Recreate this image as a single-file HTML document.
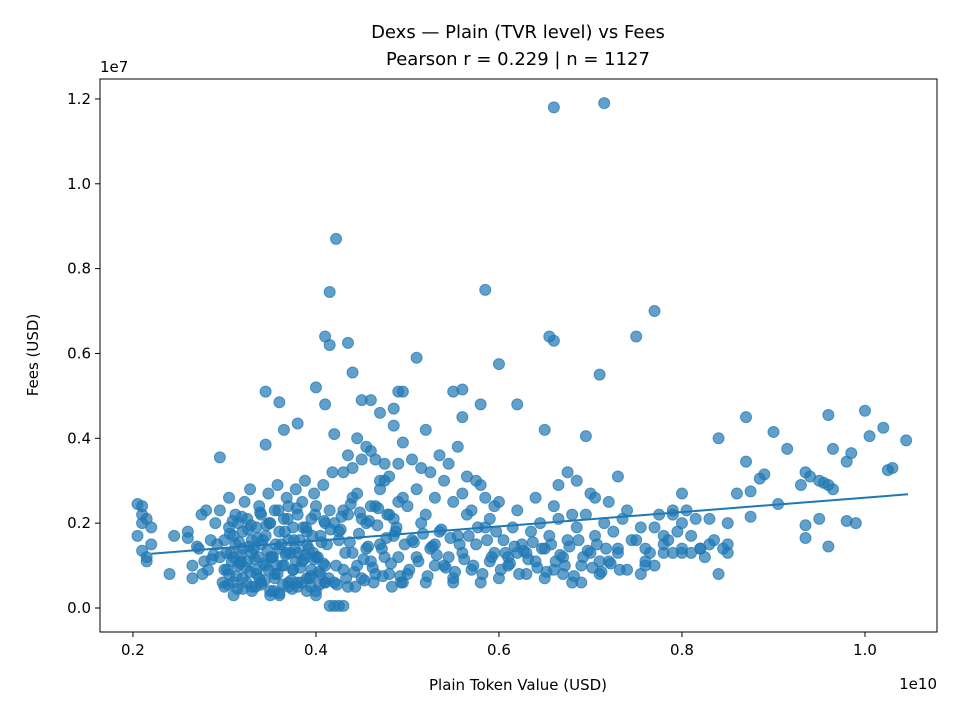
<!DOCTYPE html>
<html><head><meta charset="utf-8"><style>
html,body{margin:0;padding:0;background:#fff;}
svg text{font-family:"DejaVu Sans","Liberation Sans",sans-serif;fill:#000;}
</style></head><body>
<svg id="chart" width="960" height="720" viewBox="0 0 960 720" xmlns="http://www.w3.org/2000/svg">
<rect width="960" height="720" fill="#fff"/>
<text x="518" y="38" font-size="18" text-anchor="middle">Dexs — Plain (TVR level) vs Fees</text>
<text x="518" y="65" font-size="18" text-anchor="middle">Pearson r = 0.229 | n = 1127</text>
<g id="points"></g>
<g id="fit"></g>
<g id="axes"></g>
<text x="518" y="690" font-size="15" text-anchor="middle">Plain Token Value (USD)</text>
<text transform="translate(38,355) rotate(-90)" font-size="15" text-anchor="middle">Fees (USD)</text>
<text x="937" y="689" font-size="15" text-anchor="end">1e10</text>
<text x="100" y="72" font-size="15">1e7</text>
</svg>
<script>
// x in 1e9 USD, y in 1e6 USD
const xs = [6.6,7.15,4.22,4.15,5.85,7.7,4.1,4.15,4.35,6.55,6.6,7.5,5.1,6.0,4.4,7.1,3.45,4.0,3.6,4.1,4.5,4.9,4.95,5.5,5.6,6.2,5.8,4.6,4.7,4.85,3.8,3.65,4.2,5.2,5.6,6.5,6.95,3.45,2.95,8.4,8.7,9.0,9.6,10.0,10.2,10.45,10.05,9.15,9.65,9.85,9.8,10.3,10.25,8.7,8.9,8.85,9.35,9.4,9.5,9.55,9.6,9.65,9.3,8.75,8.6,8.0,8.5,8.75,9.05,9.35,9.5,9.35,9.6,9.8,9.9,8.4,8.5,8.5,8.2,8.1,8.3,8.0,7.8,7.9,7.55,7.6,
2.05,2.1,2.1,2.15,2.1,2.05,2.1,2.15,2.15,2.2,2.2,2.45,2.4,2.6,2.6,2.65,2.65,2.7,2.75,2.8,2.85,2.9,2.95,3.0,
4.15,4.2,4.25,4.3,
3.0,3.05,3.1,3.1,3.15,3.2,3.2,3.25,3.3,3.3,3.35,3.4,3.4,3.45,3.5,3.5,3.55,3.6,3.6,3.65,3.7,3.7,3.75,3.8,3.8,3.85,3.9,3.9,3.95,4.0,4.0,4.05,4.1,4.1,
3.0,3.05,3.1,3.15,3.2,3.25,3.3,3.35,3.4,3.45,3.5,3.55,3.6,3.65,3.7,3.75,3.8,3.85,3.9,3.95,4.0,4.05,4.1,4.15,
2.95,3.05,3.12,3.22,3.28,3.38,3.48,3.58,3.68,3.78,3.88,3.98,4.08,4.18,
3.02,3.12,3.18,3.32,3.42,3.52,3.62,3.72,3.82,3.92,4.02,4.12,
3.1,3.3,3.5,3.7,3.9,4.1,3.2,3.4,3.6,3.8,4.0,3.35,3.55,3.75,3.95,
4.2,4.3,4.4,4.5,4.6,4.7,4.8,4.9,4.25,4.35,4.45,4.55,4.65,4.75,4.85,4.95,4.2,4.3,4.4,4.5,4.6,4.7,4.8,4.9,4.25,4.35,4.45,4.55,4.65,4.75,4.85,4.95,4.3,4.5,4.7,4.9,4.4,4.6,4.8,4.35,4.55,4.75,4.95,4.45,4.65,4.85,
5.0,5.1,5.2,5.3,5.4,5.5,5.6,5.7,5.8,5.9,5.05,5.15,5.25,5.35,5.45,5.55,5.65,5.75,5.85,5.95,5.0,5.1,5.2,5.3,5.4,5.5,5.6,5.7,5.8,5.9,5.05,5.25,5.45,5.65,5.85,5.15,5.35,5.55,5.75,5.95,5.3,5.5,
6.0,6.1,6.2,6.3,6.4,6.5,6.6,6.7,6.8,6.9,7.0,7.1,7.2,7.3,7.4,6.05,6.15,6.25,6.35,6.45,6.55,6.65,6.75,6.85,6.95,7.05,7.15,7.25,7.35,7.45,6.0,6.2,6.4,6.6,6.8,7.0,7.2,7.4,6.1,6.3,6.5,6.7,6.9,7.1,7.3,6.65,6.85,7.05,7.3,6.75,
7.5,7.6,7.7,7.8,7.9,8.0,8.1,8.2,8.3,7.55,7.65,7.75,7.85,7.95,8.05,8.25,7.6,7.8,8.0,7.7,7.9,8.15,8.35,8.45,
3.03,3.08,3.13,3.18,3.23,3.28,3.33,3.38,3.43,3.48,3.53,3.58,3.63,3.68,3.73,3.78,3.83,3.88,3.93,3.98,4.03,4.08,
3.06,3.16,3.26,3.36,3.46,3.56,3.66,3.76,3.86,3.96,4.06,4.16,
3.04,3.14,3.24,3.34,3.44,3.54,3.64,3.74,3.84,3.94,4.04,4.14,
3.09,3.19,3.29,3.39,3.49,3.59,3.69,3.79,3.89,3.99,4.09,
3.07,3.17,3.27,3.37,3.47,3.57,3.67,3.77,3.87,3.97,
4.22,4.32,4.42,4.52,4.62,4.72,4.82,4.92,4.27,4.37,4.47,4.57,4.67,4.77,4.87,4.97,4.23,4.33,4.43,4.53,4.63,4.73,4.83,4.93,4.28,4.38,4.48,4.58,4.68,4.78,4.88,
5.02,5.12,5.22,5.32,5.42,5.52,5.62,5.72,5.82,5.92,5.07,5.17,5.27,5.37,5.47,5.57,5.67,5.77,5.87,5.97,
6.02,6.12,6.22,6.32,6.42,6.52,6.62,6.72,6.82,6.92,7.02,7.12,7.22,7.32,6.07,6.17,6.27,6.37,6.47,6.57,6.67,6.77,6.87,6.97,7.07,7.17,
2.72,2.78,2.82,2.88,2.92,2.76,2.86,2.98];
const ys = [11.8,11.9,8.7,7.45,7.5,7.0,6.4,6.2,6.25,6.4,6.3,6.4,5.9,5.75,5.55,5.5,5.1,5.2,4.85,4.8,4.9,5.1,5.1,5.1,5.15,4.8,4.8,4.9,4.6,4.7,4.35,4.2,4.1,4.2,4.5,4.2,4.05,3.85,3.55,4.0,4.5,4.15,4.55,4.65,4.25,3.95,4.05,3.75,3.75,3.65,3.45,3.3,3.25,3.45,3.15,3.05,3.2,3.1,3.0,2.95,2.9,2.8,2.9,2.75,2.7,2.7,2.0,2.15,2.45,1.95,2.1,1.65,1.45,2.05,2.0,0.8,1.5,1.3,1.4,1.3,2.1,1.4,1.3,2.3,0.8,1.0,
2.45,2.4,2.2,2.1,2.0,1.7,1.35,1.2,1.1,1.5,1.9,1.7,0.8,1.8,1.65,1.0,0.7,1.45,2.2,2.3,1.6,2.0,1.2,0.9,
0.05,0.05,0.05,0.05,
0.5,0.8,1.2,0.6,1.0,1.4,0.7,1.1,0.5,1.3,0.9,0.6,1.5,1.0,0.4,1.2,0.8,0.3,1.4,1.0,0.6,1.6,0.9,0.5,1.3,1.1,0.7,1.5,0.9,0.4,1.2,0.8,1.0,0.6,
1.6,1.9,1.7,2.0,1.8,2.1,1.6,1.9,2.2,1.7,2.0,2.3,1.8,2.1,2.4,1.9,2.2,2.5,1.8,2.1,2.4,1.7,2.0,2.3,
2.3,2.6,2.2,2.5,2.8,2.4,2.7,2.9,2.6,2.8,3.0,2.7,2.9,3.2,
1.3,1.5,1.1,1.4,1.6,1.2,1.5,1.3,1.6,1.4,1.2,1.5,
0.3,0.4,0.3,0.5,0.4,0.6,0.45,0.55,0.35,0.6,0.3,0.8,0.7,0.9,0.75,
0.6,0.9,1.3,0.7,1.1,1.5,0.8,1.2,1.6,0.5,1.0,1.4,0.8,1.2,1.7,0.6,2.0,2.3,2.6,2.1,2.4,2.8,2.2,2.5,1.8,2.2,2.7,2.0,2.4,3.0,2.1,2.6,3.2,3.5,3.0,3.4,3.3,3.7,3.1,3.6,3.8,3.4,3.9,4.0,3.5,4.3,
0.8,1.2,0.6,1.5,1.0,0.7,1.3,0.9,0.6,1.1,1.6,2.0,1.4,1.8,1.2,1.7,2.2,1.5,1.9,1.3,2.4,2.8,2.2,2.6,3.0,2.5,2.7,2.3,2.9,2.1,3.5,3.2,3.4,3.1,2.6,3.3,3.6,3.8,3.0,2.4,1.0,0.6,
0.7,1.0,1.3,0.8,1.1,1.4,0.9,1.2,0.6,1.0,1.3,0.8,1.1,1.4,0.9,1.6,1.9,1.5,1.8,2.0,1.7,2.1,1.6,1.9,2.2,1.7,2.0,1.8,2.1,1.6,2.5,2.3,2.6,2.4,2.2,2.7,2.5,2.3,1.2,1.3,0.7,0.8,0.6,1.1,1.3,2.9,3.0,2.6,3.1,3.2,
1.6,1.4,1.9,1.5,2.2,1.3,1.7,1.4,1.5,1.9,1.3,2.2,1.6,1.8,2.3,1.2,1.1,1.7,2.0,1.0,1.3,2.1,1.6,1.4,
0.9,1.1,0.75,1.25,0.95,0.85,1.15,0.7,1.05,0.9,1.2,0.8,1.0,1.3,0.65,1.1,0.95,1.25,0.7,1.15,0.85,1.05,
1.75,1.55,1.85,1.65,1.95,1.5,1.8,1.6,1.9,1.7,1.55,1.85,
0.55,0.45,0.6,0.5,0.65,0.4,0.55,0.45,0.6,0.5,0.55,0.7,
2.05,2.15,1.95,2.25,2.0,2.3,2.1,2.35,1.9,2.2,2.05,
1.3,1.05,1.45,1.2,1.35,1.0,1.25,1.4,1.15,1.3,
1.0,1.3,0.85,1.15,0.95,1.4,1.05,0.75,1.85,1.55,1.75,1.45,1.95,1.65,1.8,1.5,0.55,0.7,0.5,0.65,0.6,0.75,0.5,0.6,2.15,2.45,2.25,2.05,2.35,2.2,1.9,
0.9,1.1,0.75,1.25,0.95,0.85,1.15,1.0,0.8,1.2,1.55,1.75,1.45,1.85,1.65,1.5,1.7,1.9,1.6,1.8,
0.9,1.05,0.8,1.15,0.95,0.85,1.1,1.0,0.75,1.2,0.95,0.85,1.05,0.9,1.3,1.45,1.35,1.55,1.4,1.5,1.25,1.45,1.6,1.35,1.5,1.4,
1.4,1.1,0.9,1.25,1.5,0.8,1.15,0.6];
const xTicks = [0.2,0.4,0.6,0.8,1.0];
const xTickLabels = ["0.2","0.4","0.6","0.8","1.0"];
const yTicks = [0.0,0.2,0.4,0.6,0.8,1.0,1.2];
const yTickLabels = ["0.0","0.2","0.4","0.6","0.8","1.0","1.2"];
const fitX = [2.2,10.47];
const fitY = [1.28,2.68];

const L=100,R=937,T=79,B=632;
const xMin=1.64,xMax=10.787,yMin=-0.566,yMax=12.47;
const sx=v=>L+(v-xMin)/(xMax-xMin)*(R-L);
const sy=v=>B-(v-yMin)/(yMax-yMin)*(B-T);
const NS="http://www.w3.org/2000/svg";
const pts=document.getElementById('points');
const n=Math.min(xs.length,ys.length);
for(let i=0;i<n;i++){
  const c=document.createElementNS(NS,'circle');
  c.setAttribute('cx',sx(xs[i]));c.setAttribute('cy',sy(ys[i]));c.setAttribute('r',5.5);
  c.setAttribute('fill','#1f77b4');c.setAttribute('fill-opacity','0.7');
  c.setAttribute('stroke','#1f77b4');c.setAttribute('stroke-opacity','0.7');c.setAttribute('stroke-width','1');
  
  
  pts.appendChild(c);
}
const fit=document.getElementById('fit');
const ln=document.createElementNS(NS,'line');
ln.setAttribute('x1',sx(fitX[0]));ln.setAttribute('y1',sy(fitY[0]));
ln.setAttribute('x2',sx(fitX[1]));ln.setAttribute('y2',sy(fitY[1]));
ln.setAttribute('stroke','#1f77b4');ln.setAttribute('stroke-width','2');


fit.appendChild(ln);
const ax=document.getElementById('axes');
ax.innerHTML=`<rect x="${L}" y="${T}" width="${R-L}" height="${B-T}" fill="none" stroke="#000" stroke-width="1"/>`;
xTicks.forEach((t,i)=>{
  const x=sx(t*10);
  const tk=document.createElementNS(NS,'line');
  tk.setAttribute('x1',x);tk.setAttribute('x2',x);tk.setAttribute('y1',B);tk.setAttribute('y2',B+5);tk.setAttribute('stroke','#000');
  
  
  ax.appendChild(tk);
  const tx=document.createElementNS(NS,'text');
  tx.setAttribute('x',x);tx.setAttribute('y',B+23);tx.setAttribute('font-size','15');tx.setAttribute('text-anchor','middle');
  tx.textContent=xTickLabels[i];
  
  
  ax.appendChild(tx);
});
yTicks.forEach((t,i)=>{
  const y=sy(t*10);
  const tk=document.createElementNS(NS,'line');
  tk.setAttribute('x1',L-5);tk.setAttribute('x2',L);tk.setAttribute('y1',y);tk.setAttribute('y2',y);tk.setAttribute('stroke','#000');
  
  
  ax.appendChild(tk);
  const tx=document.createElementNS(NS,'text');
  tx.setAttribute('x',L-9);tx.setAttribute('y',y+5);tx.setAttribute('font-size','15');tx.setAttribute('text-anchor','end');
  tx.textContent=yTickLabels[i];
  
  
  ax.appendChild(tx);
});
</script>
</body></html>
